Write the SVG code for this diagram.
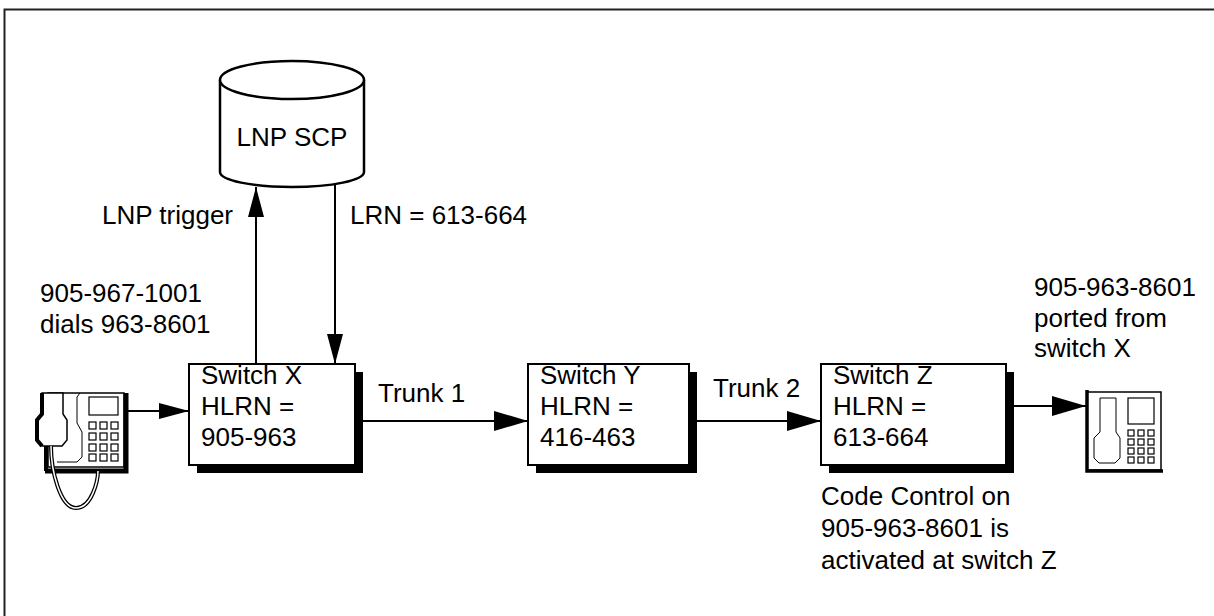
<svg xmlns="http://www.w3.org/2000/svg" width="1214" height="616" viewBox="0 0 1214 616">
  <defs>
    <style>
      text { font-family: "Liberation Sans", Arial, sans-serif; font-size: 26px; fill: #000; }
      .box { fill: #fff; stroke: #000; stroke-width: 2; }
      .shadow { fill: #000; }
      .conn { stroke: #000; stroke-width: 2; fill: none; }
      .thin { stroke: #000; stroke-width: 1; fill: none; }
      .key { fill: #fff; stroke: #000; stroke-width: 1.2; }
    </style>
    <marker id="arrow" viewBox="0 0 34 20" refX="34" refY="10" markerWidth="34" markerHeight="20" markerUnits="userSpaceOnUse" orient="auto">
      <path d="M0,0 L34,10 L0,20 Z" fill="#000"/>
    </marker>
    <marker id="arrowSmall" viewBox="0 0 30 16" refX="30" refY="8" markerWidth="30" markerHeight="16" markerUnits="userSpaceOnUse" orient="auto">
      <path d="M0,0 L30,8 L0,16 Z" fill="#000"/>
    </marker>
  </defs>

  <rect width="1214" height="616" fill="#fff"/>
  <!-- outer frame -->
  <rect x="4.5" y="9.5" width="1400" height="800" fill="none" stroke="#222" stroke-width="2"/>

  <!-- LNP SCP database -->
  <g id="scp">
    <path d="M220,80 L220,172 A72,15 0 0 0 364,172 L364,80" fill="#fff" stroke="#000" stroke-width="2.5"/>
    <ellipse cx="292" cy="80" rx="72" ry="19" fill="#fff" stroke="#000" stroke-width="2.5"/>
    <path d="M220,80 A72,19 0 0 0 364,80" class="thin"/>
    <text x="292" y="146" text-anchor="middle">LNP SCP</text>
  </g>

  <!-- calling telephone -->
  <g id="phone-a">
    <rect x="48" y="393" width="76" height="74" fill="#fff" stroke="#000" stroke-width="1.5"/>
    <path d="M126,393 L126,471 L45,471" stroke="#000" stroke-width="5" fill="none"/>
    <rect x="89" y="397" width="29" height="18" fill="#fff" stroke="#000" stroke-width="1.2"/>
    <g>
      <rect class="key" x="89" y="422" width="7" height="7"/>
      <rect class="key" x="100" y="422" width="7" height="7"/>
      <rect class="key" x="111" y="422" width="7" height="7"/>
      <rect class="key" x="89" y="433" width="7" height="7"/>
      <rect class="key" x="100" y="433" width="7" height="7"/>
      <rect class="key" x="111" y="433" width="7" height="7"/>
      <rect class="key" x="89" y="444" width="7" height="7"/>
      <rect class="key" x="100" y="444" width="7" height="7"/>
      <rect class="key" x="111" y="444" width="7" height="7"/>
      <rect class="key" x="89" y="454" width="7" height="7"/>
      <rect class="key" x="100" y="454" width="7" height="7"/>
      <rect class="key" x="111" y="454" width="7" height="7"/>
    </g>
    <!-- cradle contour -->
    <path d="M80,393 L77,397 L77,423 L82,432 L82,457 L77,462 L57,462" class="thin"/>
    <!-- handset -->
    <path d="M42,393 L63,393 L63,414 L67,420 L67,440 L62,446 L42,446 L37,440 L37,420 L42,414 Z" fill="#fff" stroke="#000" stroke-width="1.5"/>
    <path d="M42,393 L42,414 L37,420 L37,440 L42,446" stroke="#000" stroke-width="4" fill="none"/>
    <path d="M46,446 L46,471" stroke="#000" stroke-width="4"/>
    <!-- cord -->
    <path d="M51,446 C51,470 60,508 76,508 C92,508 98,480 98,471" fill="none" stroke="#000" stroke-width="4"/>
    <path d="M51,446 C51,470 60,508 76,508 C92,508 98,480 98,471" fill="none" stroke="#fff" stroke-width="1.5"/>
  </g>

  <!-- switches -->
  <g id="switch-x">
    <rect class="shadow" x="197" y="372" width="166" height="101"/>
    <rect class="box" x="189" y="364" width="166" height="101"/>
    <text x="201" y="384">Switch X</text>
    <text x="201" y="415">HLRN =</text>
    <text x="201" y="446">905-963</text>
  </g>
  <g id="switch-y">
    <rect class="shadow" x="536" y="372" width="161" height="101"/>
    <rect class="box" x="528" y="364" width="161" height="101"/>
    <text x="540" y="384">Switch Y</text>
    <text x="540" y="415">HLRN =</text>
    <text x="540" y="446">416-463</text>
  </g>
  <g id="switch-z">
    <rect class="shadow" x="829" y="372" width="185" height="101"/>
    <rect class="box" x="821" y="364" width="185" height="101"/>
    <text x="833" y="384">Switch Z</text>
    <text x="833" y="415">HLRN =</text>
    <text x="833" y="446">613-664</text>
  </g>

  <!-- called telephone -->
  <g id="phone-b">
    <rect x="1087" y="392" width="74" height="78" fill="#fff" stroke="#000" stroke-width="1.5"/>
    <path d="M1087,390 L1087,471 L1163,471" stroke="#000" stroke-width="3.5" fill="none"/>
    <path d="M1100,398 L1100,432 L1094,438 L1094,458 L1099,463 L1115,463 L1120,458 L1120,438 L1116,432 L1116,398 Z" fill="#fff" stroke="#000" stroke-width="1"/>
    <rect x="1128" y="398" width="26" height="26" fill="#fff" stroke="#000" stroke-width="1.2"/>
    <g>
      <rect class="key" x="1128" y="430" width="6" height="6"/>
      <rect class="key" x="1138" y="430" width="6" height="6"/>
      <rect class="key" x="1148" y="430" width="6" height="6"/>
      <rect class="key" x="1128" y="439" width="6" height="6"/>
      <rect class="key" x="1138" y="439" width="6" height="6"/>
      <rect class="key" x="1148" y="439" width="6" height="6"/>
      <rect class="key" x="1128" y="448" width="6" height="6"/>
      <rect class="key" x="1138" y="448" width="6" height="6"/>
      <rect class="key" x="1148" y="448" width="6" height="6"/>
      <rect class="key" x="1128" y="457" width="6" height="6"/>
      <rect class="key" x="1138" y="457" width="6" height="6"/>
      <rect class="key" x="1148" y="457" width="6" height="6"/>
    </g>
  </g>

  <!-- connectors -->
  <g id="connectors">
    <line class="conn" x1="256" y1="364" x2="256" y2="187" marker-end="url(#arrowSmall)" stroke-width="1.5"/>
    <line class="conn" x1="335" y1="185" x2="335" y2="364" marker-end="url(#arrowSmall)" stroke-width="1.5"/>
    <line class="conn" x1="127" y1="411" x2="189" y2="411" marker-end="url(#arrowSmall)"/>
    <line class="conn" x1="363" y1="421" x2="528" y2="421" marker-end="url(#arrow)"/>
    <line class="conn" x1="697" y1="421" x2="821" y2="421" marker-end="url(#arrow)"/>
    <line class="conn" x1="1014" y1="406" x2="1086" y2="406" marker-end="url(#arrow)"/>
  </g>

  <!-- labels -->
  <g id="labels">
    <text x="233" y="224" text-anchor="end">LNP trigger</text>
    <text x="350" y="224">LRN = 613-664</text>
    <text x="40" y="302">905-967-1001</text>
    <text x="40" y="333">dials 963-8601</text>
    <text x="378" y="402">Trunk 1</text>
    <text x="713" y="397">Trunk 2</text>
    <text x="1034" y="296">905-963-8601</text>
    <text x="1034" y="327">ported from</text>
    <text x="1034" y="357">switch X</text>
    <text x="821" y="505">Code Control on</text>
    <text x="821" y="537">905-963-8601 is</text>
    <text x="821" y="569">activated at switch Z</text>
  </g>
</svg>
